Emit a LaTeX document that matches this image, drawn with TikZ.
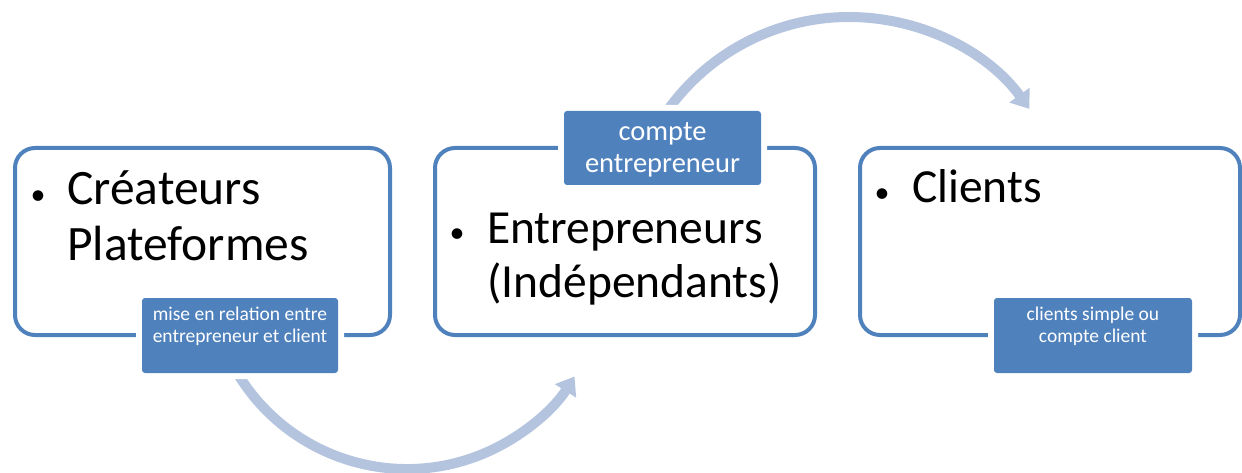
\documentclass[tikz,border=0pt]{standalone}
\usepackage{fontspec}
\setmainfont{Carlito}
\usetikzlibrary{arrows.meta}
\definecolor{boxblue}{RGB}{79,129,189}
\definecolor{flowblue}{RGB}{180,196,222}

\begin{document}
\begin{tikzpicture}[x=1pt,y=1pt,
  mainbox/.style={draw=boxblue, line width=4pt, rounded corners=20pt, inner sep=0pt},
  tagbox/.style={fill=boxblue, rounded corners=3pt, inner sep=0pt, preaction={draw=white, line width=12pt}},
  bigtxt/.style={font=\fontsize{49.5}{55}\selectfont, align=left, inner sep=0pt},
  dot/.style={font=\fontsize{30}{30}\selectfont, inner sep=0pt},
  smalltxt/.style={text=white, font=\fontsize{19.5}{22}\selectfont, align=center, inner sep=0pt},
  midtxt/.style={text=white, font=\fontsize{28.5}{32}\selectfont, align=center, inner sep=0pt},
  flow/.style={draw=flowblue, line width=10pt, -{Triangle[width=24pt,length=17pt]}}]
\useasboundingbox (0,0) rectangle (1242,-473);
% the three boxes
\node[mainbox, minimum width=375pt, minimum height=187pt] (crea) at (202.5,-241.5) {};
\node[mainbox, minimum width=380pt, minimum height=187pt] (entr) at (625,-241.5) {};
\node[mainbox, minimum width=380pt, minimum height=187pt] (cli) at (1050,-241.5) {};
% texts (base = last line)
\node[dot, anchor=base] (creaB) at (38,-205) {•};
\node[bigtxt, anchor=base west] (creaT) at (67,-260) {Créateurs\\Plateformes};
\node[dot, anchor=base] (entrB) at (457,-243) {•};
\node[bigtxt, font=\fontsize{47.5}{54}\selectfont, anchor=base west] (entrT) at (487,-297) {Entrepreneurs\\(Indépendants)};
\node[dot, anchor=base] (cliB) at (882,-203) {•};
\node[bigtxt, font=\fontsize{47.5}{54}\selectfont, anchor=base west] (cliT) at (912,-203) {Clients};
% curved arrows
\coordinate (lowC) at (407,-271);
\coordinate (highC) at (849,-240);
\draw[flow] ([shift={(205:198)}]lowC) arc[start angle=205, end angle=327.8, radius=198];
\draw[flow] ([shift={(150:223)}]highC) arc[start angle=150, end angle=36, radius=223];
% tags
\node[tagbox, minimum width=196pt, minimum height=75pt] (creaTag) at (240,-335.5) {};
\node[smalltxt, anchor=base] (creaTagT) at (240,-342) {mise en relation entre\\entrepreneur et client};
\node[tagbox, minimum width=197pt, minimum height=74pt] (entrTag) at (662.5,-148) {};
\node[midtxt, anchor=base] (entrTagT) at (662.5,-173) {compte\\entrepreneur};
\node[tagbox, minimum width=198pt, minimum height=75pt] (cliTag) at (1093,-335.5) {};
\node[smalltxt, anchor=base] (cliTagT) at (1093,-342) {clients simple ou\\compte client};
\end{tikzpicture}
\end{document}
